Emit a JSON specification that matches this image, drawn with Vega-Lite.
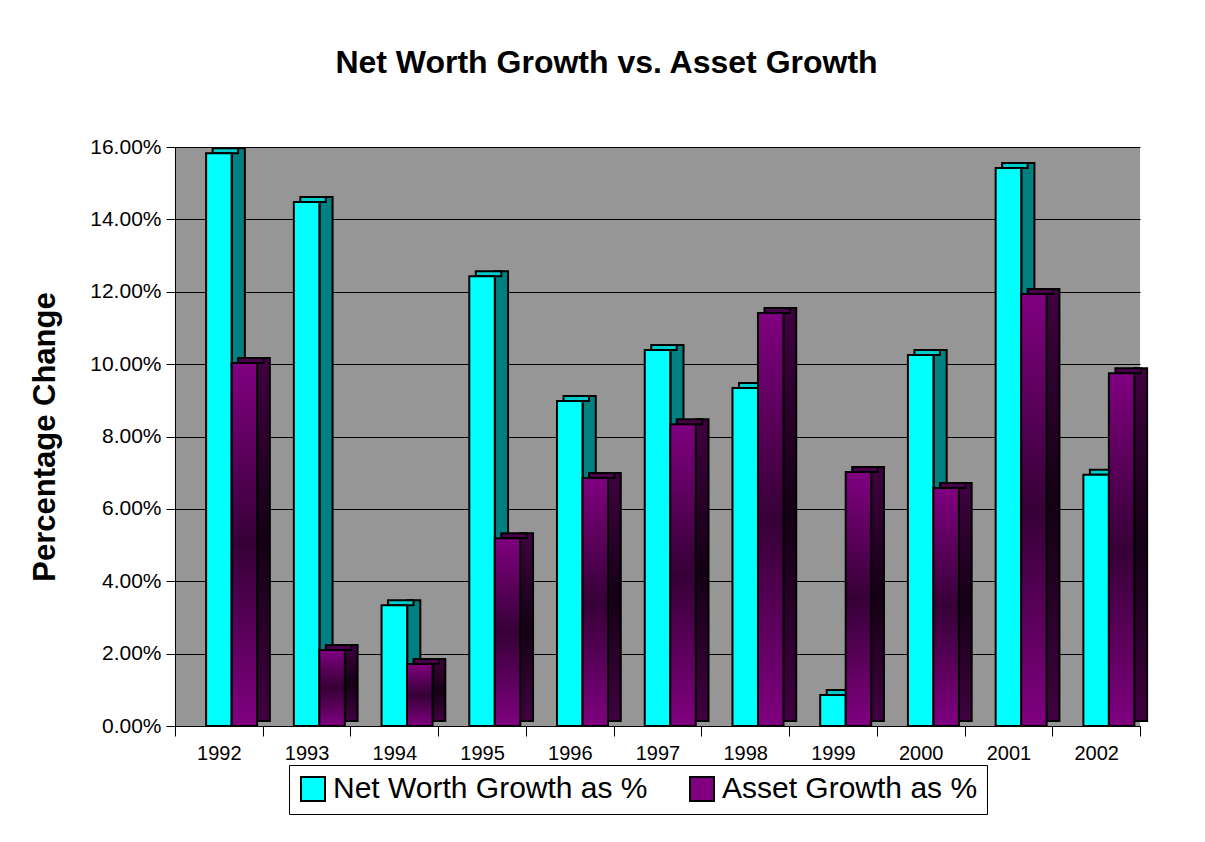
{
  "$schema": "https://vega.github.io/schema/vega-lite/v6.json",
  "width": 965,
  "height": 579,
  "autosize": {"type": "none"},
  "padding": {"left": 175, "top": 147, "right": 65, "bottom": 116},
  "background": "white",
  "config": {
    "font": "Liberation Sans",
    "view": {"fill": "#969696", "stroke": null}
  },
  "title": {
    "text": "Net Worth Growth vs. Asset Growth",
    "font": "Liberation Sans",
    "fontSize": 32,
    "fontWeight": "bold",
    "color": "black",
    "offset": 56,
    "dx": -51,
    "anchor": "middle"
  },
  "data": {
    "values": [
      {"year": "1992", "series": "Net Worth Growth as %", "value": 0.1583},
      {"year": "1992", "series": "Asset Growth as %", "value": 0.1003},
      {"year": "1993", "series": "Net Worth Growth as %", "value": 0.1448},
      {"year": "1993", "series": "Asset Growth as %", "value": 0.0210},
      {"year": "1994", "series": "Net Worth Growth as %", "value": 0.0334},
      {"year": "1994", "series": "Asset Growth as %", "value": 0.0171},
      {"year": "1995", "series": "Net Worth Growth as %", "value": 0.1243},
      {"year": "1995", "series": "Asset Growth as %", "value": 0.0519},
      {"year": "1996", "series": "Net Worth Growth as %", "value": 0.0898},
      {"year": "1996", "series": "Asset Growth as %", "value": 0.0685},
      {"year": "1997", "series": "Net Worth Growth as %", "value": 0.1039},
      {"year": "1997", "series": "Asset Growth as %", "value": 0.0834},
      {"year": "1998", "series": "Net Worth Growth as %", "value": 0.0934},
      {"year": "1998", "series": "Asset Growth as %", "value": 0.1141},
      {"year": "1999", "series": "Net Worth Growth as %", "value": 0.0086},
      {"year": "1999", "series": "Asset Growth as %", "value": 0.0702},
      {"year": "2000", "series": "Net Worth Growth as %", "value": 0.1025},
      {"year": "2000", "series": "Asset Growth as %", "value": 0.0658},
      {"year": "2001", "series": "Net Worth Growth as %", "value": 0.1542},
      {"year": "2001", "series": "Asset Growth as %", "value": 0.1194},
      {"year": "2002", "series": "Net Worth Growth as %", "value": 0.0694},
      {"year": "2002", "series": "Asset Growth as %", "value": 0.0975}
    ]
  },
  "encoding": {
    "x": {
      "field": "year",
      "type": "nominal",
      "scale": {"paddingInner": 0, "paddingOuter": 0},
      "axis": {
        "title": null,
        "labelAngle": 0,
        "labelFontSize": 20,
        "labelColor": "black",
        "labelPadding": 7,
        "tickSize": 10,
        "tickColor": "black",
        "tickBand": "extent",
        "domainColor": "black",
        "grid": false
      }
    },
    "y": {
      "field": "value",
      "type": "quantitative",
      "scale": {"domain": [0, 0.16], "nice": false},
      "axis": {
        "title": "Percentage Change",
        "titleFontSize": 31,
        "titleFontWeight": "bold",
        "titleColor": "black",
        "titlePadding": 28,
        "format": ".2%",
        "values": [0, 0.02, 0.04, 0.06, 0.08, 0.1, 0.12, 0.14, 0.16],
        "labelFontSize": 21,
        "labelColor": "black",
        "labelPadding": 5,
        "tickSize": 9,
        "tickColor": "black",
        "domainColor": "black",
        "grid": true,
        "gridColor": "black",
        "gridOpacity": 1
      }
    }
  },
  "layer": [
    {
      "transform": [{"filter": "datum.series === 'Net Worth Growth as %'"}],
      "mark": {"type": "bar", "width": 13, "xOffset": 19.5, "yOffset": -5, "color": "#008080", "stroke": "black", "strokeWidth": 2}
    },
    {
      "transform": [{"filter": "datum.series === 'Net Worth Growth as %'"}],
      "mark": {"type": "bar", "width": 25.5, "xOffset": 6.5, "y2Offset": -5, "color": "#00CCCC", "stroke": "black", "strokeWidth": 2},
      "encoding": {"y2": {"field": "value"}}
    },
    {
      "transform": [{"filter": "datum.series === 'Net Worth Growth as %'"}],
      "mark": {"type": "bar", "width": 25.5, "stroke": "black", "strokeWidth": 2, "opacity": 1},
      "encoding": {
        "color": {
          "field": "series",
          "type": "nominal",
          "scale": {"domain": ["Net Worth Growth as %", "Asset Growth as %"], "range": ["#00FFFF", "#800080"]},
          "legend": {
            "title": null,
            "orient": "none",
            "legendX": 114,
            "legendY": 618,
            "direction": "horizontal",
            "strokeColor": "black",
            "fillColor": "white",
            "padding": 9,
            "labelFontSize": 30,
            "labelColor": "black",
            "labelLimit": 500,
            "labelOffset": 5,
            "symbolType": "square",
            "symbolSize": 576,
            "symbolStrokeColor": "black",
            "symbolStrokeWidth": 2,
            "symbolOpacity": 1,
            "columnPadding": 38
          }
        }
      }
    },
    {
      "transform": [{"filter": "datum.series === 'Asset Growth as %'"}],
      "mark": {
        "type": "bar", "width": 13, "xOffset": 44.5, "yOffset": -5, "stroke": "black", "strokeWidth": 2,
        "color": {"gradient": "linear", "x1": 0, "y1": 0, "x2": 0, "y2": 1,
          "stops": [{"offset": 0, "color": "#400040"}, {"offset": 0.5, "color": "#140014"}, {"offset": 1, "color": "#400040"}]}
      }
    },
    {
      "transform": [{"filter": "datum.series === 'Asset Growth as %'"}],
      "mark": {"type": "bar", "width": 25.5, "xOffset": 32, "y2Offset": -5, "color": "#4a004a", "stroke": "black", "strokeWidth": 2},
      "encoding": {"y2": {"field": "value"}}
    },
    {
      "transform": [{"filter": "datum.series === 'Asset Growth as %'"}],
      "mark": {
        "type": "bar", "width": 25.5, "xOffset": 25.5, "stroke": "black", "strokeWidth": 2,
        "color": {"gradient": "linear", "x1": 0, "y1": 0, "x2": 0, "y2": 1,
          "stops": [{"offset": 0, "color": "#800080"}, {"offset": 0.5, "color": "#360036"}, {"offset": 1, "color": "#800080"}]}
      }
    }
  ]
}
